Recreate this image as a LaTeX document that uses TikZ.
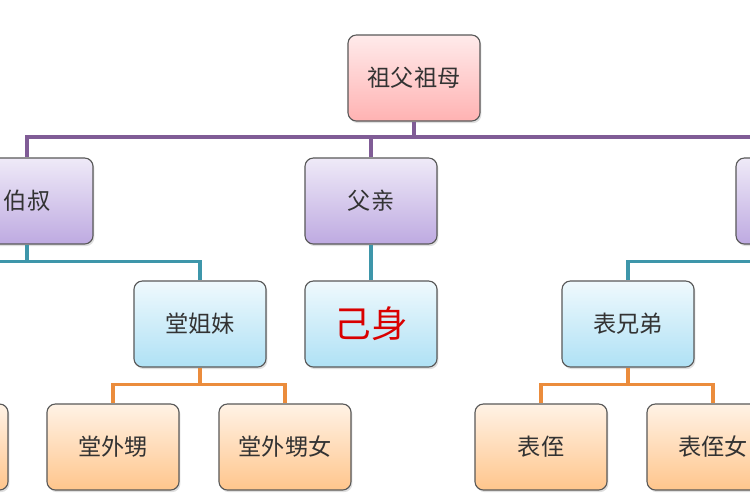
\documentclass[tikz,border=0pt]{standalone}
\usepackage{fontspec}
\newfontfamily\cjk{Noto Sans CJK SC}
\usetikzlibrary{positioning,shadows}
\definecolor{linepurple}{RGB}{128,92,150}
\definecolor{lineteal}{RGB}{62,150,170}
\definecolor{lineorange}{RGB}{235,140,60}
\definecolor{lavender}{RGB}{190,170,225}
\definecolor{skyblue}{RGB}{175,225,245}
\begin{document}
\begin{tikzpicture}[x=0.025cm,y=-0.025cm,
basenode/.style={rectangle, rounded corners=6pt, draw=gray!70!black, line width=0.8pt,
  minimum width=3.3cm, minimum height=2.15cm, font=\cjk\fontsize{16.5}{20}\selectfont,
  text=black!80, drop shadow={opacity=0.25, shadow xshift=1pt, shadow yshift=-1.5pt}},
rootnode/.style={basenode, top color=red!8, bottom color=red!30},
purplenode/.style={basenode, top color=lavender!25, bottom color=lavender},
bluenode/.style={basenode, top color=skyblue!20, bottom color=skyblue},
orangenode/.style={basenode, top color=orange!10, bottom color=orange!45},
purpleline/.style={linepurple, line width=2.5pt},
tealline/.style={lineteal, line width=2.5pt},
orangeline/.style={lineorange, line width=2.5pt},
]
\useasboundingbox (0,0) rectangle (750,500);
\clip (0,0) rectangle (750,500);
%Nodes
\node[rootnode]   (zufumu)    at (414,78)  {祖父祖母};
\node[purplenode] (boshu)     at (27,201)  {伯叔};
\node[purplenode] (fuqin)     at (371,201) {父亲};
\node[purplenode] (gujiu)     at (802,201) {};
\node[bluenode]   (tangjiemei) at (200,324) {堂姐妹};
\node[bluenode]   (jishen)    at (371,324) {\textcolor{red!85!black}{\fontsize{26}{30}\selectfont 己身}};
\node[bluenode]   (biaoxiongdi) at (628,324) {表兄弟};
\node[orangenode] (tangleft)  at (-58,447) {};
\node[orangenode] (tangwaisheng) at (113,447) {堂外甥};
\node[orangenode] (tangwaishengnv) at (285,447) {堂外甥女};
\node[orangenode] (biaozhi)   at (541,447) {表侄};
\node[orangenode] (biaozhinv) at (713,447) {表侄女};

%Lines
\coordinate (bus) at (0,137);
\draw[purpleline] (zufumu.south) -- (zufumu.south |- bus);
\draw[purpleline] (boshu.north) -- (boshu.north |- bus) -- (gujiu.north |- bus) -- (gujiu.north);
\draw[purpleline] (fuqin.north) -- (fuqin.north |- bus);
\draw[tealline] (boshu.south) -- ++(0,17) -| (tangjiemei.north);
\draw[tealline] (boshu.south) ++(0,17) -- ++(-60,0);
\draw[tealline] (fuqin.south) -- (jishen.north);
\draw[tealline] (gujiu.south) -- ++(0,17) -| (biaoxiongdi.north);
\draw[orangeline] (tangjiemei.south) -- ++(0,17) -| (tangwaisheng.north);
\draw[orangeline] (tangjiemei.south) ++(0,17) -| (tangwaishengnv.north);
\draw[orangeline] (biaoxiongdi.south) -- ++(0,17) -| (biaozhi.north);
\draw[orangeline] (biaoxiongdi.south) ++(0,17) -| (biaozhinv.north);
\end{tikzpicture}
\end{document}
